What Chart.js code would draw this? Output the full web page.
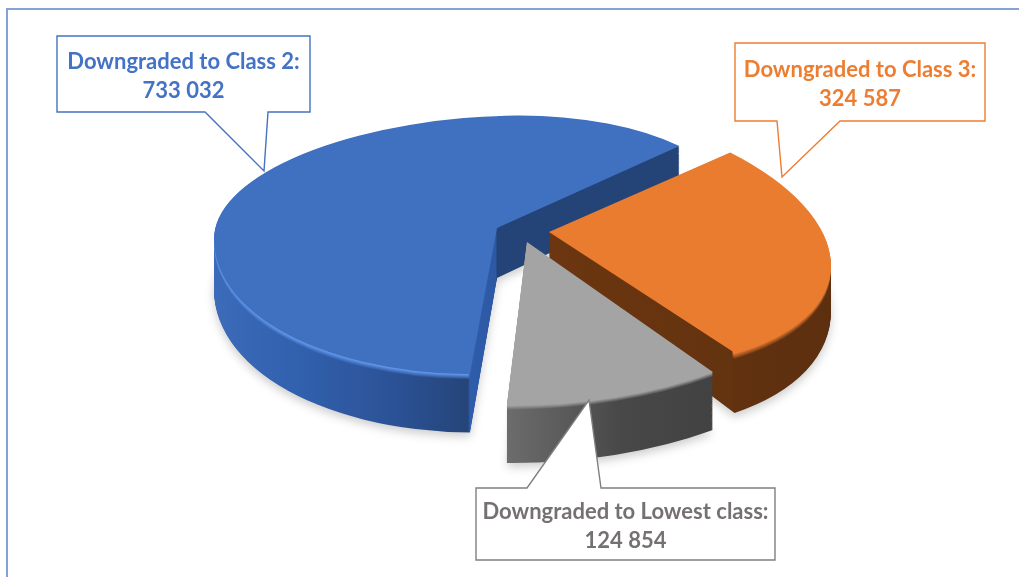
<!DOCTYPE html>
<html>
<head>
<meta charset="utf-8">
<title>Downgraded classes</title>
<script src="https://cdn.jsdelivr.net/npm/chart.js"></script>
<style>
  html, body { margin: 0; background: #fff; overflow: hidden; }
  #wrap { position: relative; width: 1019px; height: 577px; }
  .label { position: absolute; text-align: center; font: 700 22px/28.5px Lato, sans-serif; white-space: nowrap; }
</style>
</head>
<body>
<div id="wrap"><canvas id="pie" width="1019" height="577"></canvas></div>
<script>
const categories = ['Downgraded to Class 2', 'Downgraded to Class 3', 'Downgraded to Lowest class'];
const values = [733032, 324587, 124854];
const topColors = ['#4070c0', '#ea7c30', '#a4a4a4'];
const labelColors = ['#4472c4', '#ed7d31', '#767171'];

// Where each exploded slice lands on the page, the matrices squash the flat pie into perspective
const sliceViews = [
  {
    apex: [497, 228], depth: 50, grow: 0.056,
    pieces: [
      { m: [243, -2, -9.7, 112], clip: [0, -1.3, 1.3, 0] },
      { m: [283, -2, -10, 112], clip: [-1.3, -1.3, 0, 0] },
      { m: [283, -2.4, -10, 146], clip: [-1.3, 0, 1.3, 1.3] }
    ],
    wall: [[214, '#3b6bb9'], [300, '#3160ad'], [400, '#2b5194'], [468, '#254579'], [470, '#2f5dab'], [496, '#2d58a3'], [497, '#244478'], [690, '#244478']],
    rim: { color: '#5f96ea', until: 468, px: 5 }
  },
  {
    apex: [549, 232], depth: 42, grow: 0.15,
    pieces: [{ m: [279, 40, 14, 135] }],
    wall: [[549, '#6b3610'], [732, '#64330f'], [733, '#62320f'], [835, '#5c2f0f']],
    rim: { color: '#ea7c30', from: 733, until: 840, px: 5 }
  },
  {
    apex: [527, 242], depth: 58, grow: 0,
    pieces: [{ m: [328, 8.5, -11.8, 162.6] }],
    wall: [[507, '#6c6c6c'], [560, '#5c5c5c'], [620, '#484848'], [713, '#424242']],
    rim: { color: '#a4a4a4', from: 500, until: 720, px: 5 }
  }
];

const callouts = [
  { color: '#4472c4', textTop: 47, box: [57, 253], path: [[57, 36], [310, 36], [310, 112], [268, 112], [264, 171], [205, 112], [57, 112]] },
  { color: '#ed7d31', textTop: 55, box: [735, 250], path: [[735, 43], [985, 43], [985, 121], [840, 121], [782, 177], [777, 121], [735, 121]] },
  { color: '#7f7f7f', textTop: 497, box: [476, 299], path: [[476, 488], [527, 488], [589, 400], [601, 488], [775, 488], [775, 560], [476, 560]] }
];

function mixColor(a, b, w) {
  const pa = parseInt(a.slice(1), 16), pb = parseInt(b.slice(1), 16);
  const ch = s => Math.round((pa >> s & 255) * (1 - w) + (pb >> s & 255) * w);
  return `rgb(${ch(16)},${ch(8)},${ch(0)})`;
}

// Horizontal page gradient, given in the local coordinates of the squashed slice
function wallGradient(ctx, arc, view, piece, k) {
  const [a, c] = piece.m;
  const R = arc.outerRadius;
  const scale = R / (a * a + c * c);
  const x0 = view.wall[0][0], x1 = view.wall[view.wall.length - 1][0];
  const at = x => [arc.x + a * (x - view.apex[0]) * scale, arc.y + c * (x - view.apex[0]) * scale];
  const g = ctx.createLinearGradient(...at(x0), ...at(x1));
  const rim = view.rim;
  const w = k <= rim.px ? 1 - (k - 1) / rim.px : 0;
  view.wall.forEach(([x, col]) => {
    const inRim = x <= rim.until && x >= (rim.from || 0);
    g.addColorStop((x - x0) / (x1 - x0), inRim ? mixColor(col, rim.color, w) : col);
  });
  return g;
}

function paintPiece(ctx, arc, view, piece, layer, fill, saved, pad) {
  const R = arc.outerRadius;
  const [a, c, b, d] = piece.m;
  const s = 1 + layer * view.grow;
  ctx.save();
  ctx.transform(a / R, b * s / R, c / R, d * s / R, view.apex[0], view.apex[1] + layer * view.depth);
  if (piece.clip) {
    const [x0, y0, x1, y1] = piece.clip;
    ctx.beginPath();
    ctx.rect(x0 * R - pad, y0 * R - pad, (x1 - x0) * R + 2 * pad, (y1 - y0) * R + 2 * pad);
    ctx.clip();
  }
  ctx.translate(-arc.x, -arc.y);
  arc.options = { ...saved, backgroundColor: fill };
  arc.draw(ctx);
  ctx.restore();
}

const pie3d = {
  id: 'pie3d',
  beforeDatasetsDraw(chart) {
    const ctx = chart.ctx;
    chart.getDatasetMeta(0).data.forEach((arc, i) => {
      const view = sliceViews[i];
      const saved = arc.options;
      const steps = Math.round(view.depth + 8);

      // extrusion, bottom layer first, soft shadow only under the last one
      for (let k = steps; k >= 1; k--) {
        view.pieces.forEach(piece => {
          ctx.save();
          if (k === steps) {
            ctx.shadowColor = 'rgba(0,0,0,0.2)';
            ctx.shadowBlur = 10;
            ctx.shadowOffsetY = 4;
          }
          paintPiece(ctx, arc, view, piece, k / steps, wallGradient(ctx, arc, view, piece, k), saved, k === steps ? 0 : 1.5);
          ctx.restore();
        });
      }
      view.pieces.forEach(piece => paintPiece(ctx, arc, view, piece, 0, topColors[i], saved, 1.5));
      arc.options = saved;
    });
    return false;
  },
  afterDraw(chart) {
    const ctx = chart.ctx;
    ctx.save();
    // frame, runs off the page on the right and at the bottom
    ctx.strokeStyle = '#86a0d8';
    ctx.lineWidth = 2;
    ctx.strokeRect(7, 9, 1100, 700);

    ctx.lineWidth = 1.4;
    callouts.forEach(c => {
      ctx.beginPath();
      c.path.forEach(([x, y], i) => i ? ctx.lineTo(x, y) : ctx.moveTo(x, y));
      ctx.closePath();
      ctx.fillStyle = '#fff';
      ctx.fill();
      ctx.strokeStyle = c.color;
      ctx.stroke();
    });
    ctx.restore();
  }
};

new Chart(document.getElementById('pie'), {
  type: 'pie',
  data: {
    labels: categories,
    datasets: [{ data: values, backgroundColor: topColors, borderWidth: 0 }]
  },
  options: {
    responsive: false,
    animation: false,
    rotation: 185,
    plugins: { legend: { display: false }, tooltip: { enabled: false } }
  },
  plugins: [pie3d]
});

// Labels as page text, on top of the callout boxes
const wrap = document.getElementById('wrap');
categories.forEach((name, i) => {
  const el = document.createElement('div');
  const [x, w] = callouts[i].box;
  el.className = 'label';
  el.style.left = x + 'px';
  el.style.width = w + 'px';
  el.style.top = callouts[i].textTop + 'px';
  el.style.color = labelColors[i];
  el.innerHTML = `${name}:<br>${String(values[i]).replace(/(\d{3})$/, ' $1')}`;
  wrap.appendChild(el);
});
</script>
</body>
</html>
